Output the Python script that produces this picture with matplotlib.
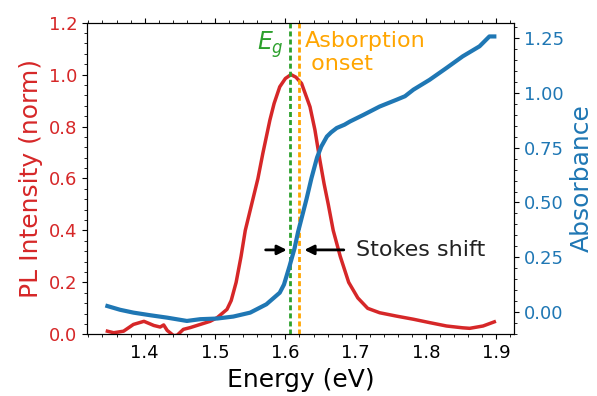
###############################
#       Read in Libraries     #
###############################
import numpy as np
import matplotlib
matplotlib.use('Agg')
import matplotlib.pyplot as plt
from matplotlib.ticker import AutoMinorLocator

################################
#         Data (read off)      #
################################
# PL spectrum (normalised)
pl_energy = [1.347, 1.356, 1.370, 1.384, 1.399, 1.413, 1.422, 1.427, 1.432, 1.437,
             1.441, 1.446, 1.455, 1.465, 1.479, 1.493, 1.503, 1.517, 1.523, 1.530,
             1.537, 1.543, 1.552, 1.561, 1.568, 1.578, 1.584, 1.592, 1.600, 1.608,
             1.615, 1.623, 1.635, 1.642, 1.649, 1.655, 1.661, 1.668, 1.678, 1.690,
             1.703, 1.717, 1.734, 1.758, 1.782, 1.805, 1.829, 1.852, 1.862, 1.881,
             1.897]
pl_intensity = [0.012, 0.006, 0.012, 0.038, 0.050, 0.034, 0.028, 0.036, 0.015, 0.004,
                -0.005, -0.004, 0.019, 0.026, 0.038, 0.050, 0.064, 0.096, 0.130, 0.200,
                0.300, 0.400, 0.500, 0.600, 0.697, 0.825, 0.889, 0.953, 0.985, 1.000,
                0.990, 0.966, 0.876, 0.787, 0.671, 0.580, 0.500, 0.400, 0.300, 0.200,
                0.140, 0.100, 0.083, 0.070, 0.058, 0.045, 0.032, 0.025, 0.023, 0.032,
                0.048]

# Absorbance spectrum
abs_energy = [1.347, 1.365, 1.384, 1.408, 1.432, 1.460, 1.479, 1.503, 1.526, 1.550,
              1.573, 1.592, 1.598, 1.606, 1.613, 1.618, 1.630, 1.637, 1.645, 1.651,
              1.659, 1.665, 1.673, 1.684, 1.692, 1.711, 1.734, 1.758, 1.770, 1.782,
              1.805, 1.829, 1.852, 1.876, 1.890, 1.897]
absorbance = [0.027, 0.010, -0.003, -0.015, -0.026, -0.041, -0.033, -0.030, -0.021, -0.003,
              0.035, 0.088, 0.125, 0.210, 0.290, 0.365, 0.515, 0.610, 0.705, 0.755,
              0.801, 0.820, 0.840, 0.855, 0.870, 0.900, 0.938, 0.969, 0.985, 1.015,
              1.060, 1.114, 1.167, 1.213, 1.258, 1.258]

# Markers
e_gap = 1.607
abs_onset = 1.620
arrow_y = 0.325

################################
#            Plot              #
################################
fig = plt.figure(figsize=(5.97, 3.96), dpi=100)
ax = fig.add_axes([0.1457, 0.1558, 0.7153, 0.787])
ax2 = ax.twinx()

ax.plot(pl_energy, pl_intensity, color='tab:red', lw=2.5)
ax.set_ylim(0, 1.2)

ax2.axvline(e_gap, color='tab:green', ls='--', lw=2, dashes=(1.8, 1.1))
ax2.axvline(abs_onset, color='orange', ls='--', lw=2, dashes=(1.8, 1.1))
ax2.plot(abs_energy, absorbance, color='tab:blue', lw=3)
ax2.set_ylim(-0.102, 1.321)
ax2.set_yticks([0.0, 0.25, 0.5, 0.75, 1.0, 1.25])

ax.set_xlim(1.318, 1.925)
ax.set_xticks([1.4, 1.5, 1.6, 1.7, 1.8, 1.9])

# labels
ax.set_xlabel('Energy (eV)', fontsize=18)
ax.set_ylabel('PL Intensity (norm)', fontsize=18, color='tab:red')
ax2.set_ylabel('Absorbance', fontsize=18, color='tab:blue')

# ticks
for a in (ax, ax2):
    a.xaxis.set_minor_locator(AutoMinorLocator(5))
    a.yaxis.set_minor_locator(AutoMinorLocator(5))
ax.tick_params(axis='both', which='both', direction='out', top=True, labelsize=13)
ax.tick_params(axis='y', labelcolor='tab:red')
ax2.tick_params(axis='y', which='both', direction='out', labelsize=13, labelcolor='tab:blue')

# annotations
ax.text(1.598, 1.095, r'$E_g$', ha='right', va='baseline', color='tab:green', fontsize=17)
ax.text(1.627, 1.168, 'Asborption\n onset', ha='left', va='top', color='orange', fontsize=16)
ax.text(1.700, arrow_y, 'Stokes shift', ha='left', va='center', color='#222222', fontsize=16)

ax2.annotate('', xy=(e_gap - 0.001, arrow_y), xytext=(1.568, arrow_y),
             xycoords=ax.transData, textcoords=ax.transData,
             arrowprops=dict(arrowstyle='-|>', color='black', lw=2, mutation_scale=14))
ax2.annotate('', xy=(abs_onset + 0.003, arrow_y), xytext=(1.687, arrow_y),
             xycoords=ax.transData, textcoords=ax.transData,
             arrowprops=dict(arrowstyle='-|>', color='black', lw=2, mutation_scale=14))

plt.savefig('out.png', dpi=100)
plt.close('all')
